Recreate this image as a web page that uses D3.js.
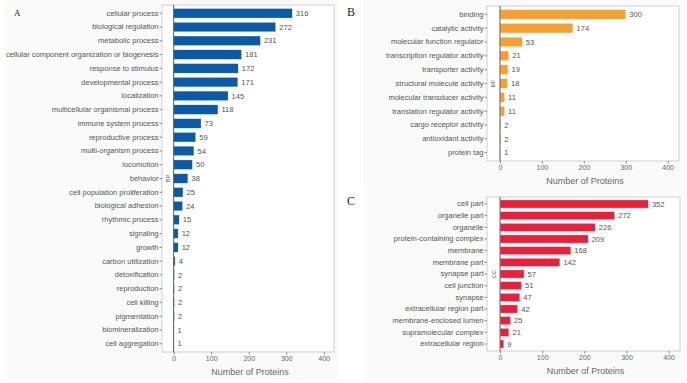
<!DOCTYPE html>
<html><head><meta charset="utf-8">
<script src="https://cdn.jsdelivr.net/npm/d3@7"></script>
<style>
html,body{margin:0;padding:0;background:#fff;}
svg{display:block;}
</style></head>
<body>
<svg id="chart" width="687" height="383"></svg>
<script>
// ---- data ----
const bpCategories = ["cellular process","biological regulation","metabolic process","cellular component organization or biogenesis","response to stimulus","developmental process","localization","multicellular organismal process","immune system process","reproductive process","multi-organism process","locomotion","behavior","cell population proliferation","biological adhesion","rhythmic process","signaling","growth","carbon utilization","detoxification","reproduction","cell killing","pigmentation","biomineralization","cell aggregation"];
const bpValues = [316,272,231,181,172,171,145,118,73,59,54,50,38,25,24,15,12,12,4,2,2,2,2,1,1];
const mfCategories = ["binding","catalytic activity","molecular function regulator","transcription regulator activity","transporter activity","structural molecule activity","molecular transducer activity","translation regulator activity","cargo receptor activity","antioxidant activity","protein tag"];
const mfValues = [300,174,53,21,19,18,11,11,2,2,1];
const ccCategories = ["cell part","organelle part","organelle","protein-containing complex","membrane","membrane part","synapse part","cell junction","synapse","extracellular region part","membrane-enclosed lumen","supramolecular complex","extracellular region"];
const ccValues = [352,272,226,209,168,142,57,51,47,42,25,21,9];
const xTicks = [0,100,200,300,400];
const xDomain = [-31,427];
const axisTitle = "Number of Proteins";

const svg = d3.select("#chart");
const FONT = "'Liberation Sans', Arial, Helvetica, sans-serif";

// panel backgrounds
svg.append("rect").attr("x",5).attr("y",0).attr("width",333).attr("height",380).attr("fill","#fafafa");
svg.append("rect").attr("x",363).attr("y",0).attr("width",324).attr("height",190).attr("fill","#fafafa");
svg.append("rect").attr("x",365).attr("y",190).attr("width",322).attr("height",193).attr("fill","#fafafa");

function panel(o){
  const g = svg.append("g");
  const x = d3.scaleLinear().domain(xDomain).range([o.left,o.right]);
  const y = d3.scaleBand().domain(o.cats).range([o.top,o.bottom]).paddingInner(0.3).paddingOuter(0.25);
  // box
  g.append("rect").attr("x",o.left).attr("y",o.top).attr("width",o.right-o.left).attr("height",o.bottom-o.top)
    .attr("fill","#fff").attr("stroke","#cfcfcf").attr("stroke-width",1);
  // bars
  g.selectAll("rect.bar").data(o.vals).enter().append("rect").attr("class","bar")
    .attr("x",x(0)).attr("y",(d,i)=>y(o.cats[i]))
    .attr("width",d=>x(d)-x(0)).attr("height",y.bandwidth())
    .attr("fill",o.color).attr("stroke","#fff").attr("stroke-width",0.4);
  // zero line
  g.append("line").attr("x1",x(0)).attr("x2",x(0)).attr("y1",o.top).attr("y2",o.bottom)
    .attr("stroke","#5a5a5a").attr("stroke-width",1);
  // value labels
  g.selectAll("text.val").data(o.vals).enter().append("text").attr("class","val")
    .attr("x",d=>x(d)+3.5).attr("y",(d,i)=>y(o.cats[i])+y.bandwidth()/2)
    .attr("dy","0.35em").attr("font-family",FONT).attr("font-size",7.6).attr("fill","#555")
    .text(d=>d);
  // y axis
  const ya = g.append("g").attr("transform",`translate(${o.left},0)`)
    .call(d3.axisLeft(y).tickSize(2.5).tickPadding(1));
  ya.attr("fill","#555");
  ya.select(".domain").remove();
  ya.selectAll("line").attr("stroke","#888");
  ya.selectAll("text").attr("font-family",FONT).attr("font-size",7.5).attr("fill","#555");
  // x axis
  const xa = g.append("g").attr("transform",`translate(0,${o.bottom})`)
    .call(d3.axisBottom(x).tickValues(xTicks).tickSize(2.5).tickPadding(2));
  xa.select(".domain").remove();
  xa.selectAll("line").attr("stroke","#888");
  xa.selectAll("text").attr("font-family",FONT).attr("font-size",7).attr("fill","#666");
  // axis title
  g.append("text").attr("x",(o.left+o.right)/2+2).attr("y",o.bottom+23).attr("text-anchor","middle")
    .attr("font-family",FONT).attr("font-size",9).attr("fill","#666").text(axisTitle);
  // strip label
  g.append("text").attr("transform",`translate(${(o.left+x(0))/2+2},${(o.top+o.bottom)/2}) rotate(-90)`)
    .attr("text-anchor","middle").attr("font-family",FONT).attr("font-size",5.5).attr("fill","#555").text(o.strip);
  // panel letter
  g.append("text").attr("x",o.lx).attr("y",o.ly).attr("font-family","'Liberation Serif','Times New Roman',serif")
    .attr("font-size",o.lsize).attr("fill","#222").text(o.letter);
}

panel({cats:bpCategories, vals:bpValues, color:"#0a5aa8", left:162, right:334, top:5, bottom:352, strip:"BP", letter:"A", lx:14, ly:16, lsize:9});
panel({cats:mfCategories, vals:mfValues, color:"#f5a031", left:487, right:679, top:6, bottom:161, strip:"MF", letter:"B", lx:347, ly:16, lsize:12});
panel({cats:ccCategories, vals:ccValues, color:"#ea1f3a", left:487, right:680, top:197, bottom:351, strip:"CC", letter:"C", lx:347, ly:205, lsize:12});
</script>
</body></html>
